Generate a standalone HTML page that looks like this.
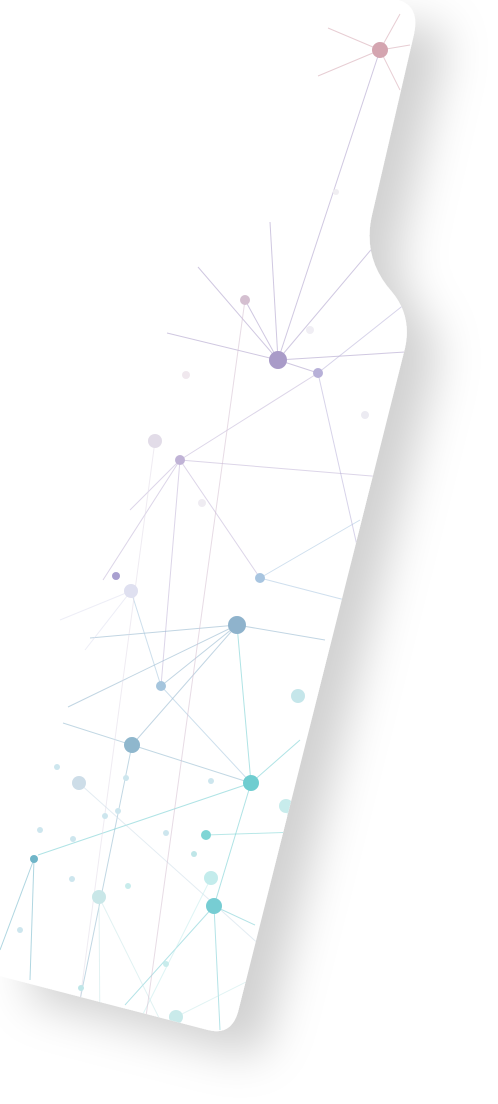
<!DOCTYPE html>
<html><head><meta charset="utf-8"><style>
html,body{margin:0;padding:0;background:#fff;}
svg{display:block}
</style></head><body>
<svg width="498" height="1104" viewBox="0 0 498 1104" xmlns="http://www.w3.org/2000/svg">
<defs>
<filter id="sh" x="-30%" y="-10%" width="170%" height="130%">
<feDropShadow dx="30" dy="24" stdDeviation="22" flood-color="#000" flood-opacity="0.18"/>
</filter>
<clipPath id="clip"><path d="M0 0 L398 0 Q420 6 414 34 L372 215 Q362 258 392 292 Q412 316 405 348 L238 1012 Q231 1036 208 1030 L0 976 Z"/></clipPath>
</defs>
<path filter="url(#sh)" fill="#fff"
 d="M0 0 L398 0 Q420 6 414 34 L372 215 Q362 258 392 292 Q412 316 405 348 L238 1012 Q231 1036 208 1030 L0 976 Z"/>
<g clip-path="url(#clip)">
<g id="edges"></g>
<g id="nodes"></g>
</g>
</svg>
<script>
const nodeX=[380,245,278,318,186,310,365,155,180,202,116,131,260,237,161,298,132,79,251,286,206,34,211,99,214,176,358,126,118,105,166,194,73,72,40,128,20,166,81,211,57,336];
const nodeY=[50,300,360,373,375,330,415,441,460,503,576,591,578,625,686,696,745,783,783,806,835,859,878,897,906,1017,550,778,811,816,833,854,839,879,830,886,930,964,988,781,767,192];
const nodeR=[8,5,9,5,4,4,4,7,5,4,4,7,5,9,5,7,8,7,8,7,5,4,7,7,8,7,3,3,3,3,3,3,3,3,3,3,3,3,3,3,3,3];
const nodeC=["#d4a5b0","#d4bfd0","#a99bc8","#b7b0d8","#f0e8ee","#f0eef4","#ecebf2","#e2dce8","#c0b3d6","#efecf2","#a9a0d0","#dfe0f0","#a8c5e0","#8fb3cc","#a5c5dd","#c5e6ea","#8fb7cd","#cddde8","#6fcdd0","#c8ecec","#7fd5d5","#6fb5c8","#c3ecec","#c9e7e8","#77cdd3","#c9eaea","#b0d0e0","#cde6ee","#cde6ee","#cde6ee","#cde6ee","#bfe6e8","#cde6ee","#cde6ee","#cde6ee","#c8ecec","#cde6ee","#c8ecec","#bfe6e8","#cde6ee","#cde6ee","#f0eef2"];
const edgeA=[2,2,2,2,2,2,2,2,0,0,0,0,0,8,8,8,8,8,8,13,13,13,13,13,16,16,16,18,18,18,18,24,24,24,12,12,3,3,14,14,21,21,23,23,20,11,11,7,17,19,22,25,1];
const edgeB=[-1,-2,-3,-4,-5,0,1,3,-6,-7,-8,-9,-10,12,-11,-12,14,-13,3,-14,-15,-16,14,16,18,-17,-18,13,-19,24,-20,-21,-22,-23,-24,-25,26,-26,18,11,-27,-28,-29,-30,-31,-32,-33,-34,-35,-36,-37,-38,-39];
const extX=[198,167,270,375,405,328,318,400,410,400,103,130,395,90,68,325,63,80,38,300,125,220,255,345,360,410,0,30,170,100,360,85,60,80,310,330,120,290,140,270,0];
const extY=[267,333,222,245,352,28,76,14,45,90,580,510,478,638,707,640,723,1000,855,740,1005,1030,925,600,520,300,950,980,1040,1040,830,650,620,1000,990,1060,1060,960,1060,185,300];
const eg=document.getElementById('edges'),ng=document.getElementById('nodes');
const NS='http://www.w3.org/2000/svg';
for(let i=0;i<edgeA.length;i++){
  const a=edgeA[i],b=edgeB[i];
  const x2=b>=0?nodeX[b]:extX[-b-1],y2=b>=0?nodeY[b]:extY[-b-1];
  const l=document.createElementNS(NS,'line');
  
  
  l.setAttribute('x1',nodeX[a]);l.setAttribute('y1',nodeY[a]);
  l.setAttribute('x2',x2);l.setAttribute('y2',y2);
  l.setAttribute('stroke',nodeC[a]);l.setAttribute('stroke-width','1');l.setAttribute('opacity','0.55');
  eg.appendChild(l);
}
for(let i=0;i<nodeX.length;i++){
  const c=document.createElementNS(NS,'circle');
  
  
  c.setAttribute('cx',nodeX[i]);c.setAttribute('cy',nodeY[i]);c.setAttribute('r',nodeR[i]);
  c.setAttribute('fill',nodeC[i]);
  ng.appendChild(c);
}
</script>
</body></html>
